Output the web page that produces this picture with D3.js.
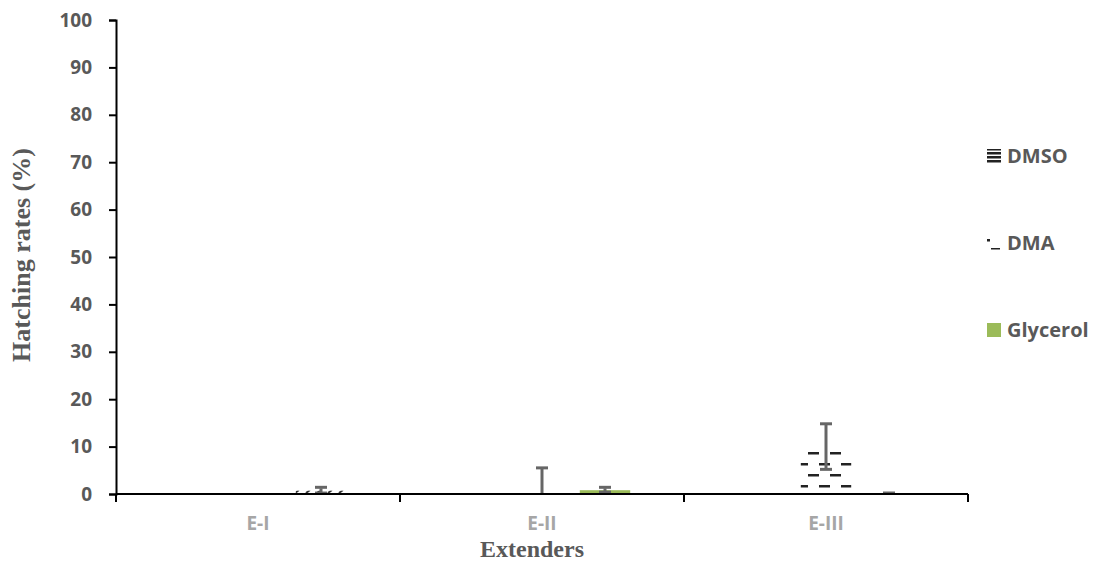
<!DOCTYPE html>
<html>
<head>
<meta charset="utf-8">
<script src="https://cdn.jsdelivr.net/npm/d3@7/dist/d3.min.js"></script>
<style>
  body { margin: 0; background: #fff; }
  svg { display: block; }
</style>
</head>
<body>
<div id="graph"></div>
<script>
/*global d3 */
var categories = ["E-I", "E-II", "E-III"],
    series = ["DMSO", "DMA", "Glycerol"],
    dmso = [0, 0, 0],
    dma = [0, 0, 9.9],
    glycerol = [0.7, 0.8, 0],
    dmsoErr = [null, null, null],
    dmaErr = [null, 5.3, 4.7],
    glycerolErr = [0.5, 0.4, 0],
    yTicks = [0, 10, 20, 30, 40, 50, 60, 70, 80, 90, 100];

function dessin() {
    "use strict";
    var margin = {top: 20, right: 125, bottom: 69, left: 116},
        W = 1093, H = 563,
        width = W - margin.left - margin.right,
        height = H - margin.top - margin.bottom,
        gris = "#595959",

        values = [dmso, dma, glycerol],
        errors = [dmsoErr, dmaErr, glycerolErr],
        fills = ["url(#pDmso)", "url(#pDma)", "#9bbb59"],

        svg = d3.select("#graph").append("svg")
            .attr("width", W).attr("height", H),
        defs = svg.append("defs"),
        g = svg.append("g")
            .attr("transform", "translate(" + margin.left + "," + margin.top + ")"),

        x0 = d3.scaleBand().domain(categories).range([0, width]),
        x1 = d3.scaleBand().domain(series).range([0, x0.bandwidth()])
            .paddingInner(0.2).paddingOuter(0.854),
        y = d3.scaleLinear().domain([0, 100]).range([height, 0]);

    // motifs
    var p = defs.append("pattern").attr("id", "pDmso")
        .attr("patternUnits", "userSpaceOnUse").attr("width", 8).attr("height", 4);
    p.append("rect").attr("width", 8).attr("height", 4).attr("fill", "#fff");
    p.append("rect").attr("width", 8).attr("height", 2.5).attr("fill", "#222");

    p = defs.append("pattern").attr("id", "pDma")
        .attr("patternUnits", "userSpaceOnUse").attr("width", 22).attr("height", 22);
    p.append("rect").attr("width", 22).attr("height", 22).attr("fill", "#fff");
    p.append("rect").attr("x", 14).attr("y", 14).attr("width", 11).attr("height", 2.5).attr("fill", "#222");
    p.append("rect").attr("x", -8).attr("y", 14).attr("width", 11).attr("height", 2.5).attr("fill", "#222");
    p.append("rect").attr("x", 3).attr("y", 3).attr("width", 11).attr("height", 2.5).attr("fill", "#222");

    p = defs.append("pattern").attr("id", "pDiag")
        .attr("patternUnits", "userSpaceOnUse").attr("width", 11).attr("height", 6)
        .attr("x", 2);
    p.append("rect").attr("width", 11).attr("height", 6).attr("fill", "#fff");
    p.append("path").attr("d", "M1,5 L5,2").attr("stroke", "#333").attr("stroke-width", 2);

    // axe y
    var ay = g.append("g")
        .call(d3.axisLeft(y).tickValues(yTicks).tickSize(7).tickSizeOuter(7).tickPadding(17));
    ay.select(".domain").attr("stroke", "#000").attr("stroke-width", 2);
    ay.selectAll(".tick line").attr("stroke", "#000").attr("stroke-width", 2);
    ay.selectAll("text").attr("fill", gris)
        .style("font-family", "'Open Sans', sans-serif")
        .style("font-weight", "bold").style("font-size", "19px");

    // barres
    var groupes = g.selectAll(".groupe")
        .data(categories)
        .enter().append("g")
        .attr("transform", function (d) { return "translate(" + x0(d) + ",0)"; });

    groupes.selectAll("rect")
        .data(function (c, i) {
            return series.map(function (s, j) {
                return {s: s, j: j, i: i, v: values[j][i], e: errors[j][i]};
            });
        })
        .enter().append("rect")
        .attr("x", function (d) { return x1(d.s); })
        .attr("width", x1.bandwidth())
        .attr("y", function (d) { return y(d.v); })
        .attr("height", function (d) { return y(0) - y(d.v); })
        .attr("fill", function (d) {
            return (d.i === 0 && d.j === 2) ? "url(#pDiag)" : fills[d.j];
        });

    // barres d'erreur
    var eb = groupes.selectAll(".err")
        .data(function (c, i) {
            return series.map(function (s, j) {
                return {s: s, v: values[j][i], e: errors[j][i]};
            }).filter(function (d) { return d.e !== null; });
        })
        .enter().append("g")
        .attr("transform", function (d) { return "translate(" + (x1(d.s) + x1.bandwidth() / 2) + ",0)"; });
    eb.append("line")
        .attr("y1", function (d) { return y(Math.max(0, d.v - d.e)); })
        .attr("y2", function (d) { return y(d.v + d.e); })
        .attr("stroke", "#666").attr("stroke-width", 3);
    eb.append("line")
        .attr("x1", -6).attr("x2", 6)
        .attr("y1", function (d) { return y(d.v + d.e) - 1; })
        .attr("y2", function (d) { return y(d.v + d.e) - 1; })
        .attr("stroke", "#666").attr("stroke-width", 3);
    eb.filter(function (d) { return d.v - d.e > 0; }).append("line")
        .attr("x1", -6).attr("x2", 6)
        .attr("y1", function (d) { return y(d.v - d.e); })
        .attr("y2", function (d) { return y(d.v - d.e); })
        .attr("stroke", "#666").attr("stroke-width", 3);

    // axe x
    var ax = g.append("g")
        .attr("transform", "translate(0," + height + ")");
    ax.append("line").attr("x1", 0).attr("x2", width)
        .attr("stroke", "#000").attr("stroke-width", 2);
    ax.selectAll(".sep")
        .data(categories.concat(["fin"]))
        .enter().append("line")
        .attr("x1", function (d, i) { return i * x0.step(); })
        .attr("x2", function (d, i) { return i * x0.step(); })
        .attr("y1", 0).attr("y2", 8)
        .attr("stroke", "#000").attr("stroke-width", 2);
    ax.selectAll(".lab")
        .data(categories)
        .enter().append("text")
        .attr("x", function (d) { return x0(d) + x0.bandwidth() / 2; })
        .attr("y", 36)
        .attr("text-anchor", "middle")
        .attr("fill", "#a6a6a6")
        .style("font-family", "'Open Sans', sans-serif")
        .style("font-weight", "bold").style("font-size", "19px")
        .text(function (d) { return d; });

    // titres
    svg.append("text")
        .attr("x", margin.left + width / 2 - 10)
        .attr("y", 557)
        .attr("text-anchor", "middle")
        .attr("fill", gris)
        .style("font-family", "'Liberation Serif', 'Times New Roman', serif")
        .style("font-weight", "bold").style("font-size", "24px")
        .text("Extenders");
    svg.append("text")
        .attr("transform", "translate(30,255) rotate(-90)")
        .attr("text-anchor", "middle")
        .attr("fill", gris)
        .style("font-family", "'Liberation Serif', 'Times New Roman', serif")
        .style("font-weight", "bold").style("font-size", "26px")
        .text("Hatching rates (%)");

    // légende
    var leg = svg.selectAll(".leg")
        .data(series)
        .enter().append("g")
        .attr("transform", function (d, i) { return "translate(987," + (156 + i * 87) + ")"; });
    leg.append("rect")
        .attr("x", 0).attr("y", -7).attr("width", 14).attr("height", 14)
        .attr("fill", function (d, i) { return i === 1 ? "#fff" : fills[i]; });
    leg.filter(function (d, i) { return i === 1; }).append("rect")
        .attr("x", 0).attr("y", -4).attr("width", 3).attr("height", 2.5).attr("fill", "#222");
    leg.filter(function (d, i) { return i === 1; }).append("rect")
        .attr("x", 4).attr("y", 5).attr("width", 9).attr("height", 1.5).attr("fill", "#222");
    leg.append("text")
        .attr("x", 20).attr("dy", "0.36em")
        .attr("fill", gris)
        .style("font-family", "'Open Sans', sans-serif")
        .style("font-weight", "bold").style("font-size", "20px")
        .text(function (d) { return d; });
}

dessin();
</script>
</body>
</html>
